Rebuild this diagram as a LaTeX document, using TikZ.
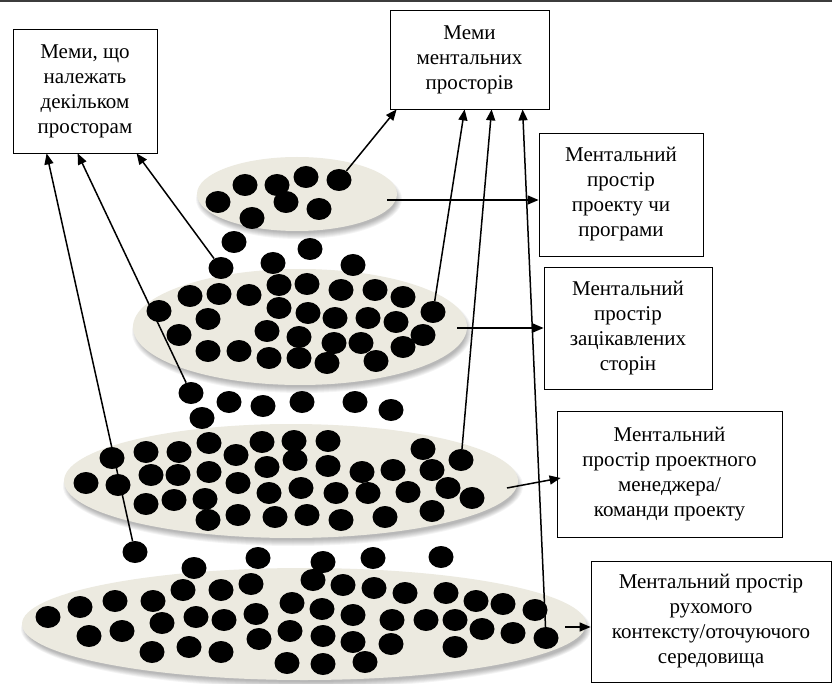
\documentclass[tikz,border=0pt]{standalone}
\usepackage{fontspec}
\setmainfont{Liberation Serif}
\usetikzlibrary{arrows.meta,shapes.geometric,calc}
\definecolor{ellfill}{RGB}{236,234,224}
\definecolor{topbar}{RGB}{60,60,60}
\newcommand\myplate[4]{%
  \foreach \k in {0,...,6}{\fill[black,opacity=0.045] (#1+2,#2+5) ellipse [x radius={(#3+3-\k)*1pt}, y radius={(#4+3-\k)*1pt}];}
  \fill[ellfill] (#1,#2) ellipse [x radius={#3*1pt}, y radius={#4*1pt}];}
\begin{document}
\begin{tikzpicture}[x=1pt,y=-1pt,
  box/.style={draw=black, line width=0.8pt, fill=white, inner sep=0pt, align=center, font=\fontsize{21}{25}\selectfont},
  dot/.style={ellipse, fill=black, minimum width=25pt, minimum height=22pt, inner sep=0pt},
  arr/.style={line width=1.5pt, -{Triangle[length=11pt,width=9pt]}}
]
\useasboundingbox[fill=white] (0,0) rectangle (832,684);
\fill[topbar] (0,0) rectangle (832,2);

% plates
\myplate{297}{194}{100}{37}
\myplate{300}{327}{167}{58}
\myplate{291}{481}{227}{57}
\myplate{304}{624}{282}{56}

% boxes
\node[box, minimum width=144pt, minimum height=124pt] (A) at (85,91)
  {Меми, що\\належать\\декільком\\просторам};
\node[box, minimum width=159pt, minimum height=99pt] (B) at (469.5,59.5)
  {Меми\\ментальних\\просторів};
\node[box, minimum width=164pt, minimum height=123pt] (C) at (621,194.5)
  {Ментальний\\простір\\проекту чи\\програми};
\node[box, minimum width=168pt, minimum height=122pt] (D) at (628,328)
  {Ментальний\\простір\\зацікавлених\\сторін};
\node[box, minimum width=225pt, minimum height=126pt] (E) at (669.5,474)
  {Ментальний\\простір проектного\\менеджера/\\команди проекту};
\node[box, minimum width=240pt, minimum height=121pt] (F) at (711,621.5)
  {Ментальний простір\\рухомого\\контексту/оточуючого\\середовища};

% dots
\foreach \x/\y [count=\i] in {218/202, 245/185, 277/185, 306/177, 286/202, 319/209, 252/218,
  234/242, 310/249, 273/263, 353/265}
  \node[dot] (a\i) at (\x,\y) {};
\node[dot] (m1) at (339,180) {};
\node[dot] (m2) at (221,268) {};
\foreach \x/\y [count=\i] in {190/296, 219/294, 249/295, 279/285, 307/284, 341/290, 375/290, 403/297,
  159/311, 208/319, 279/308, 308/313, 335/318, 368/318, 396/322,
  179/335, 267/331, 299/337, 334/343, 361/343, 423/335,
  208/351, 239/351, 269/358, 299/358, 327/363, 376/361, 403/347,
  229/402, 263/406, 302/402, 355/402, 391/410, 202/418}
  \node[dot] (b\i) at (\x,\y) {};
\node[dot] (m3) at (433,312) {};
\node[dot] (m4) at (191,393) {};
\foreach \x/\y [count=\i] in {146/452, 179/452, 209/443, 262/442, 294/441, 328/441, 423/449,
  112/458, 236/455, 295/460, 267/467, 328/466, 362/472, 393/470, 432/470,
  86/483, 118/485, 151/475, 178/475, 209/472, 238/483, 269/493, 301/488, 336/493, 368/493, 408/492, 448/488, 472/498,
  146/504, 174/500, 205/499, 208/520, 238/515, 275/517, 307/515, 341/520, 385/517, 432/511,
  194/568, 258/558, 323/562, 373/558, 441/557}
  \node[dot] (c\i) at (\x,\y) {};
\node[dot] (m5) at (461,460) {};
\node[dot] (m6) at (135,552) {};
\foreach \x/\y [count=\i] in {183/590, 221/590, 251/584, 313/580, 343/585, 374/588, 405/593, 446/593, 476/601, 503/604, 535/610,
  48/617, 80/607, 115/601, 153/601,
  89/636, 122/631, 162/623, 196/617, 224/620, 256/614, 292/603, 322/609, 353/615, 392/620, 426/620, 455/620, 482/629, 513/633,
  152/652, 189/647, 221/652, 259/639, 290/631, 323/636, 353/642, 391/644, 455/647,
  287/663, 323/664, 365/662}
  \node[dot] (d\i) at (\x,\y) {};
\node[dot] (m7) at (546,638) {};

% arrows
\draw[arr] (m6) -- ($(A.south west)+(34,0)$);
\draw[arr] (m4) -- ($(A.south west)+(65,0)$);
\draw[arr] (m2) -- ($(A.south west)+(124,0)$);
\draw[arr] (m1) -- ($(B.south west)+(7,0)$);
\draw[arr] (m3) -- ($(B.south west)+(75,0)$);
\draw[arr] (m5) -- ($(B.south west)+(102,0)$);
\draw[arr] (m7) -- ($(B.south west)+(133,0)$);
\coordinate (p1) at (387,200);
\draw[arr] (p1) -- (p1 -| C.west);
\coordinate (p2) at (457,328);
\draw[arr] (p2) -- (p2 -| D.west);
\coordinate (p3) at (507,488);
\draw[arr] (p3) -- ($(E.west)+(4,4)$);
\coordinate (p4) at (565,627);
\draw[arr] (p4) -- (p4 -| F.west);
\end{tikzpicture}
\end{document}
